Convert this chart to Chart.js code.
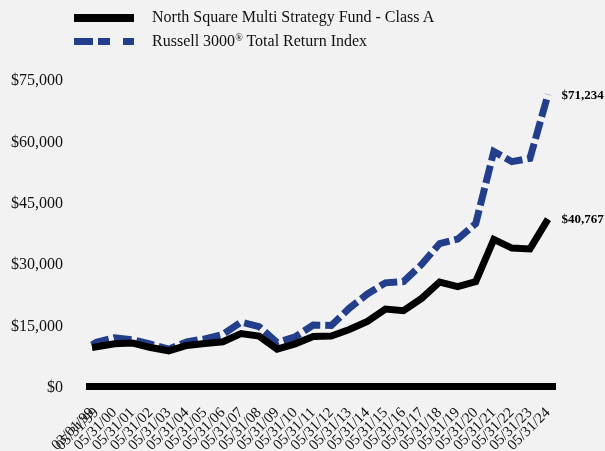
<!DOCTYPE html>
<html><head><meta charset="utf-8">
<script src="https://cdn.jsdelivr.net/npm/chart.js@4.4.1/dist/chart.umd.min.js"></script>
<style>
html,body{margin:0;padding:0;background:#f2f2f2;}
#wrap{position:relative;width:605px;height:451px;overflow:hidden;background:#f2f2f2;}
#c{position:absolute;left:0;top:0;}
.lt{position:absolute;left:152px;font-family:"Liberation Serif","Times New Roman",serif;font-size:16px;line-height:20px;color:#111;white-space:nowrap;}
.lt sup{font-size:10px;vertical-align:top;position:relative;top:-3px;}
.ls{position:absolute;}
</style>
</head><body>
<div id="wrap">
<canvas id="c" width="605" height="451"></canvas>
<div class="ls" style="left:74px;top:14px;width:60px;height:8px;background:#000;"></div>
<div class="ls" style="left:74px;top:37.5px;width:19px;height:7px;background:#233e8b;"></div>
<div class="ls" style="left:98px;top:37.5px;width:12px;height:7px;background:#233e8b;"></div>
<div class="ls" style="left:123px;top:37.5px;width:11px;height:7px;background:#233e8b;"></div>
<div class="lt" style="top:7px;">North Square Multi Strategy Fund - Class A</div>
<div class="lt" style="top:31px;">Russell 3000<sup>®</sup> Total Return Index</div>
</div>
<script>
const dates = ['03/01/99','05/31/99','05/31/00','05/31/01','05/31/02','05/31/03','05/31/04','05/31/05','05/31/06','05/31/07','05/31/08','05/31/09','05/31/10','05/31/11','05/31/12','05/31/13','05/31/14','05/31/15','05/31/16','05/31/17','05/31/18','05/31/19','05/31/20','05/31/21','05/31/22','05/31/23','05/31/24'];
const fundValues = [9425, 9600, 10300, 10500, 9400, 8600, 9900, 10400, 10800, 12800, 12200, 9000, 10300, 12100, 12200, 13800, 15800, 18800, 18400, 21400, 25400, 24300, 25500, 35800, 33700, 33500, 40767];
const indexValues = [10000, 10700, 11800, 11300, 10200, 9000, 10800, 11500, 12600, 15600, 14500, 10600, 12000, 14900, 14800, 19000, 22500, 25200, 25500, 29700, 34800, 35900, 39700, 57300, 54800, 55600, 71234];
const seriesNames = ['North Square Multi Strategy Fund - Class A', 'Russell 3000® Total Return Index'];
const endLabelText = ['$40,767', '$71,234'];
const yTicks = [0, 15000, 30000, 45000, 60000, 75000];

function toYear(s){
  const [m,d,y] = s.split('/').map(Number);
  const yr = y > 50 ? 1900 + y : 2000 + y;
  const cum = [0,31,59,90,120,151,181,212,243,273,304,334];
  return yr + (cum[m-1] + d - 1) / 365;
}
const xVals = dates.map(toYear);
const pts = vals => vals.map((v,i)=>({x:xVals[i], y:v}));

const endLabels = {
  id:'endLabels',
  afterDatasetsDraw(chart){
    const ctx = chart.ctx;
    ctx.save();
    ctx.font = 'bold 13px "Liberation Serif"';
    ctx.fillStyle = '#000';
    ctx.textBaseline = 'middle';
    ctx.textAlign = 'left';
    chart.data.datasets.forEach((ds,i)=>{
      const meta = chart.getDatasetMeta(i);
      const p = meta.data[meta.data.length-1];
      ctx.fillText(endLabelText[i], p.x + 13.5, p.y + 1);
    });
    ctx.restore();
  }
};

new Chart(document.getElementById('c'), {
  type:'line',
  data:{
    datasets:[
      {label:seriesNames[0], data:pts(fundValues), borderColor:'#000', borderWidth:7, pointRadius:0, tension:0, fill:false},
      {label:seriesNames[1], data:pts(indexValues), borderColor:'#233e8b', borderWidth:7, borderDash:[18,5], pointRadius:0, tension:0, fill:false}
    ]
  },
  options:{
    responsive:false,
    animation:false,
    events:[],
    layout:{padding:{top:79,right:49,bottom:0,left:0}},
    plugins:{legend:{display:false}, tooltip:{enabled:false}},
    scales:{
      x:{
        type:'linear',
        min:1998.830, max:2024.854,
        afterBuildTicks:s=>{ s.ticks = xVals.map(v=>({value:v})); },
        afterFit:s=>{ s.height = 65; },
        grid:{display:false, drawTicks:false},
        border:{display:false},
        ticks:{
          autoSkip:false, maxRotation:45, minRotation:45, padding:18,
          color:'#111',
          font:{family:'"Liberation Serif"', size:15},
          callback:(v,i)=>dates[i]
        }
      },
      y:{
        min:0, max:75000,
        afterBuildTicks:s=>{ s.ticks = yTicks.map(v=>({value:v})); },
        afterFit:s=>{ s.width = 86; },
        grid:{
          drawTicks:false,
          color:c=> (c.tick && c.tick.value===0) ? '#000' : 'rgba(0,0,0,0)',
          lineWidth:c=> (c.tick && c.tick.value===0) ? 7 : 0
        },
        border:{display:false},
        ticks:{
          padding:23, color:'#111', labelOffset:2,
          font:{family:'"Liberation Serif"', size:16},
          callback:v=>'$' + Number(v).toLocaleString('en-US')
        }
      }
    }
  },
  plugins:[endLabels]
});
</script>
</body></html>
